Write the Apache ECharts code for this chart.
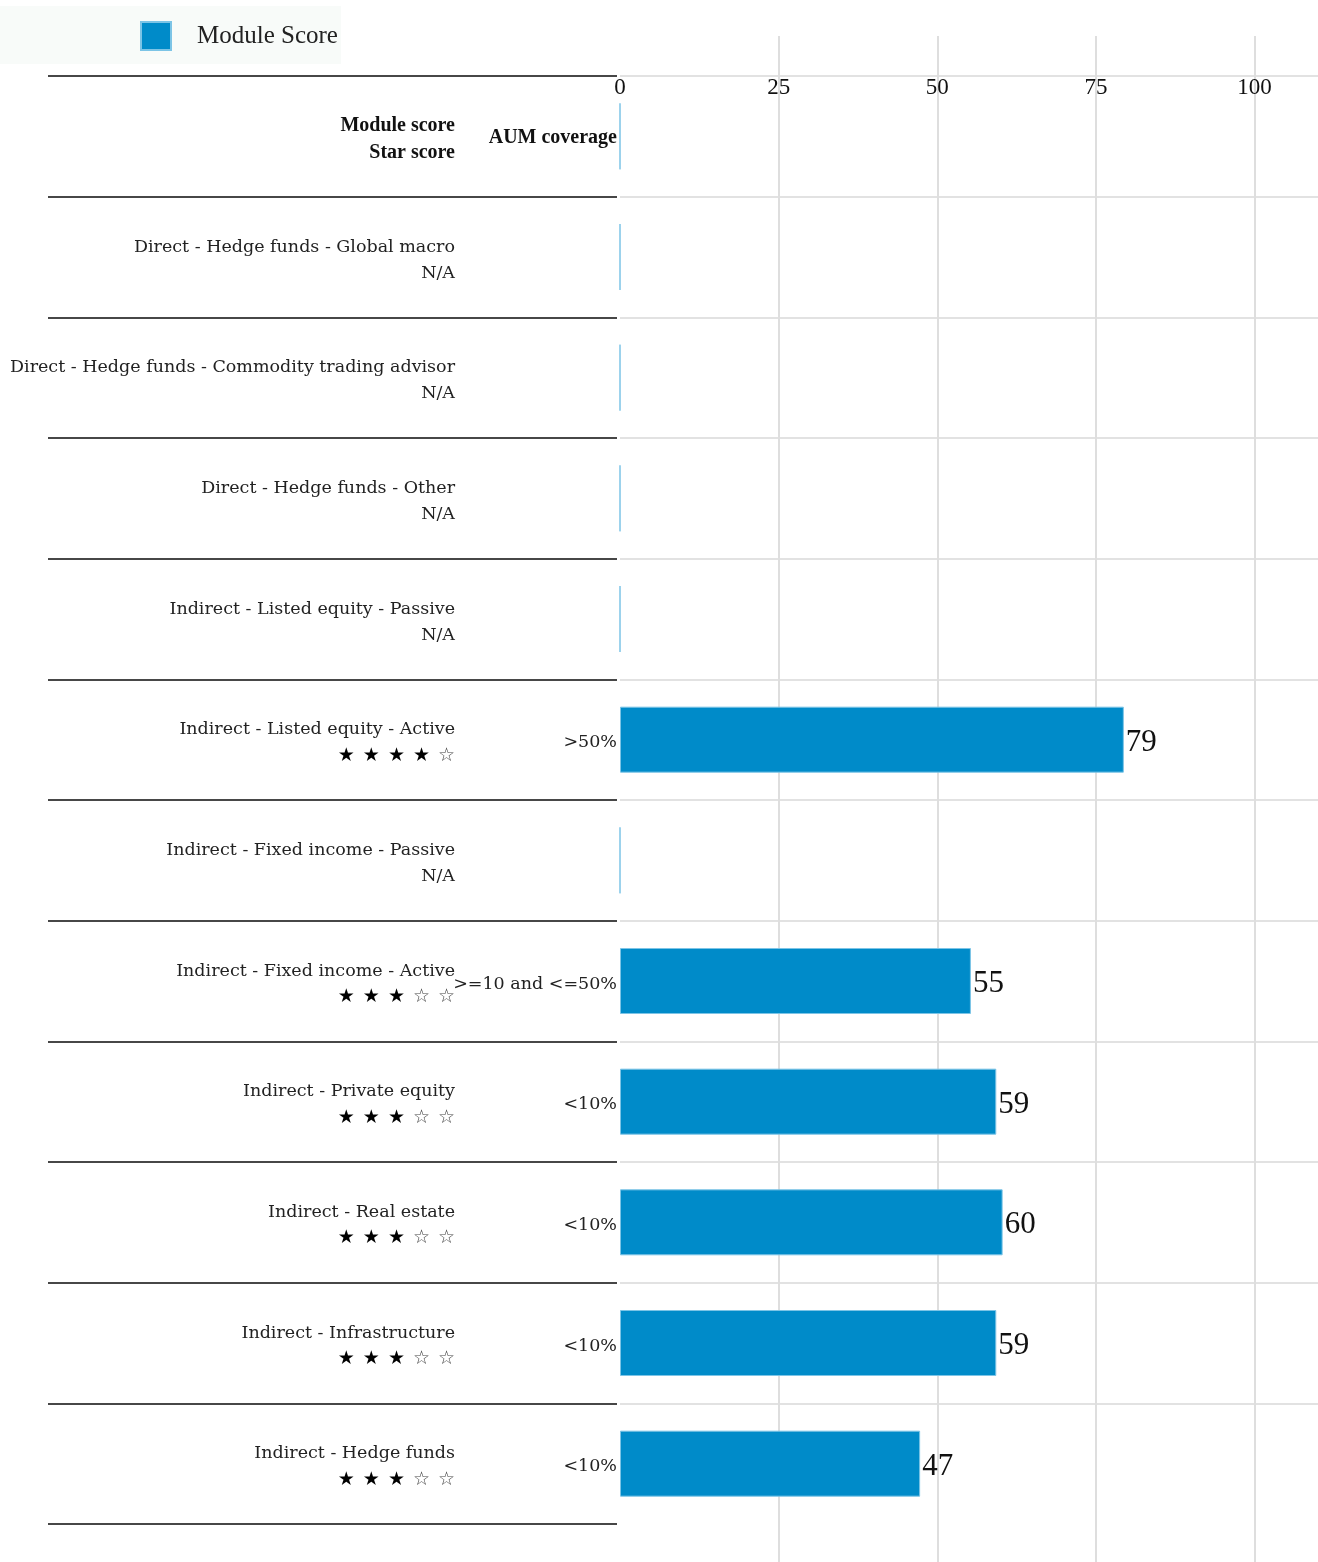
<!DOCTYPE html>
<html>
<head>
<meta charset="utf-8">
<script src="https://cdn.jsdelivr.net/npm/echarts@6/dist/echarts.min.js"></script>
<style>
html,body{margin:0;padding:0;background:#fff;}
#chart{width:1318px;height:1562px;}
</style>
</head>
<body>
<div id="chart"></div>
<script>
// ---- data ----
var headerName = "Module score\nStar score";
var headerAum = "AUM coverage";
var categories = [
  "Direct - Hedge funds - Global macro",
  "Direct - Hedge funds - Commodity trading advisor",
  "Direct - Hedge funds - Other",
  "Indirect - Listed equity - Passive",
  "Indirect - Listed equity - Active",
  "Indirect - Fixed income - Passive",
  "Indirect - Fixed income - Active",
  "Indirect - Private equity",
  "Indirect - Real estate",
  "Indirect - Infrastructure",
  "Indirect - Hedge funds"
];
var starScores = [null, null, null, null, 4, null, 3, 3, 3, 3, 3];
var aumCoverage = ["", "", "", "", ">50%", "", ">=10 and <=50%", "<10%", "<10%", "<10%", "<10%"];
var moduleScores = [0, 0, 0, 0, 79.4, 0, 55.3, 59.3, 60.3, 59.3, 47.3];
var xTicks = [0, 25, 50, 75, 100];

// ---- build ----
var NUMFONT = "Liberation Serif";
var TXTFONT = "DejaVu Serif";
function starText(s) {
  if (s === null) return "{n|N/A}";
  var out = "";
  for (var i = 0; i < 5; i++) out += (i > 0 ? "{sp| }" : "") + "{" + (i < s ? "sf" : "se") + "|" + (i < s ? "\u2605" : "\u2606") + "}";
  return out;
}
var yCats = ["__header__"].concat(categories);
var aumLabels = [headerAum].concat(aumCoverage);
var barData = [0].concat(moduleScores);
var rowH = 1448 / yCats.length;

var chart = echarts.init(document.getElementById("chart"));
var option = {
  animation: false,
  backgroundColor: "#ffffff",
  textStyle: { fontFamily: TXTFONT },
  legend: {
    left: 0, top: 6,
    padding: [15, 3, 13, 140],
    backgroundColor: "#f8fbf9",
    itemWidth: 30, itemHeight: 28,
    icon: "rect",
    textStyle: { fontFamily: NUMFONT, fontSize: 25, color: "#222", padding: [0, 0, 0, 21] },
    data: ["Module Score"]
  },
  grid: [
    { left: 620, top: 76, width: 698, height: 1448 },
    { left: 620, top: 36, width: 698, bottom: 0 },
    { left: 48, top: 76, width: 569, height: 1448 },
    { left: 620, top: 76, width: 698, height: rowH * (yCats.length - 1) }
  ],
  xAxis: [
    {
      gridIndex: 0, type: "value", position: "top", min: 0, max: 110, interval: 25,
      axisLine: { show: false }, axisTick: { show: false }, splitLine: { show: false },
      axisLabel: {
        inside: true, margin: 0, verticalAlign: "top", showMaxLabel: false,
        fontFamily: NUMFONT, fontSize: 23, color: "#111",
        formatter: function (v) { return xTicks.indexOf(v) >= 0 ? String(v) : ""; }
      }
    },
    {
      gridIndex: 1, type: "value", min: 0, max: 110, interval: 25,
      axisLine: { show: false }, axisTick: { show: false }, axisLabel: { show: false },
      splitLine: { show: true, showMinLine: false, showMaxLine: false, lineStyle: { color: "#dedede", width: 2 } }
    },
    { gridIndex: 2, type: "value", show: false, min: 0, max: 1 },
    { gridIndex: 3, type: "value", show: false, min: 0, max: 1 }
  ],
  yAxis: [
    {
      gridIndex: 0, type: "category", data: yCats, inverse: true,
      axisLine: { show: false }, axisTick: { show: false }, splitLine: { show: false },
      axisLabel: {
        margin: 3, align: "right", padding: [6, 0, 0, 0],
        formatter: function (v, i) { return i === 0 ? "{h|" + aumLabels[i] + "}" : "{n|" + aumLabels[i] + "}"; },
        rich: {
          h: { fontFamily: NUMFONT, fontSize: 20, fontWeight: "bold", color: "#111", padding: [0, 0, 4, 0] },
          n: { fontFamily: TXTFONT, fontSize: 17.5, color: "#222" }
        }
      }
    },
    {
      gridIndex: 0, type: "category", data: yCats, inverse: true, position: "left", offset: 160,
      axisLine: { show: false }, axisTick: { show: false }, splitLine: { show: false },
      axisLabel: {
        margin: 5, align: "right", padding: [6, 0, 0, 0],
        formatter: function (v, i) {
          if (i === 0) return headerName.split("\n").map(function (l) { return "{h|" + l + "}"; }).join("\n");
          return "{n|" + categories[i - 1] + "}\n" + starText(starScores[i - 1]);
        },
        rich: {
          h: { fontFamily: NUMFONT, fontSize: 20, fontWeight: "bold", color: "#111", lineHeight: 27 },
          n: { fontFamily: TXTFONT, fontSize: 17.5, color: "#222", lineHeight: 26 },
          sf: { fontFamily: "DejaVu Sans", fontSize: 19, color: "#000", lineHeight: 26 },
          se: { fontFamily: "DejaVu Sans", fontSize: 19, color: "#444", lineHeight: 26 },
          sp: { fontFamily: "DejaVu Sans", fontSize: 19, lineHeight: 26, width: 8 }
        }
      }
    },
    { gridIndex: 1, type: "value", show: false },
    {
      gridIndex: 2, type: "category", data: yCats, inverse: true,
      axisLine: { show: false }, axisTick: { show: false }, axisLabel: { show: false },
      splitLine: { show: true, interval: 0, lineStyle: { color: "#474747", width: 2 } }
    },
    {
      gridIndex: 3, type: "category", data: yCats.slice(0, yCats.length - 1), inverse: true,
      axisLine: { show: false }, axisTick: { show: false }, axisLabel: { show: false },
      splitLine: { show: true, interval: 0, lineStyle: { color: "#e2e2e2", width: 2 } }
    }
  ],
  series: [
    {
      name: "Module Score", type: "bar", xAxisIndex: 0, yAxisIndex: 0,
      data: barData, barWidth: 66,
      itemStyle: { color: "#008bc9", borderColor: "#7cc4e6", borderWidth: 1 },
      label: {
        show: true, position: "right", distance: 2, offset: [0, 3],
        fontFamily: NUMFONT, fontSize: 31, color: "#111",
        formatter: function (p) { return p.dataIndex === 0 || p.value === 0 ? "" : String(Math.round(p.value)); }
      }
    }
  ]
};
chart.setOption(option);
</script>
</body>
</html>
